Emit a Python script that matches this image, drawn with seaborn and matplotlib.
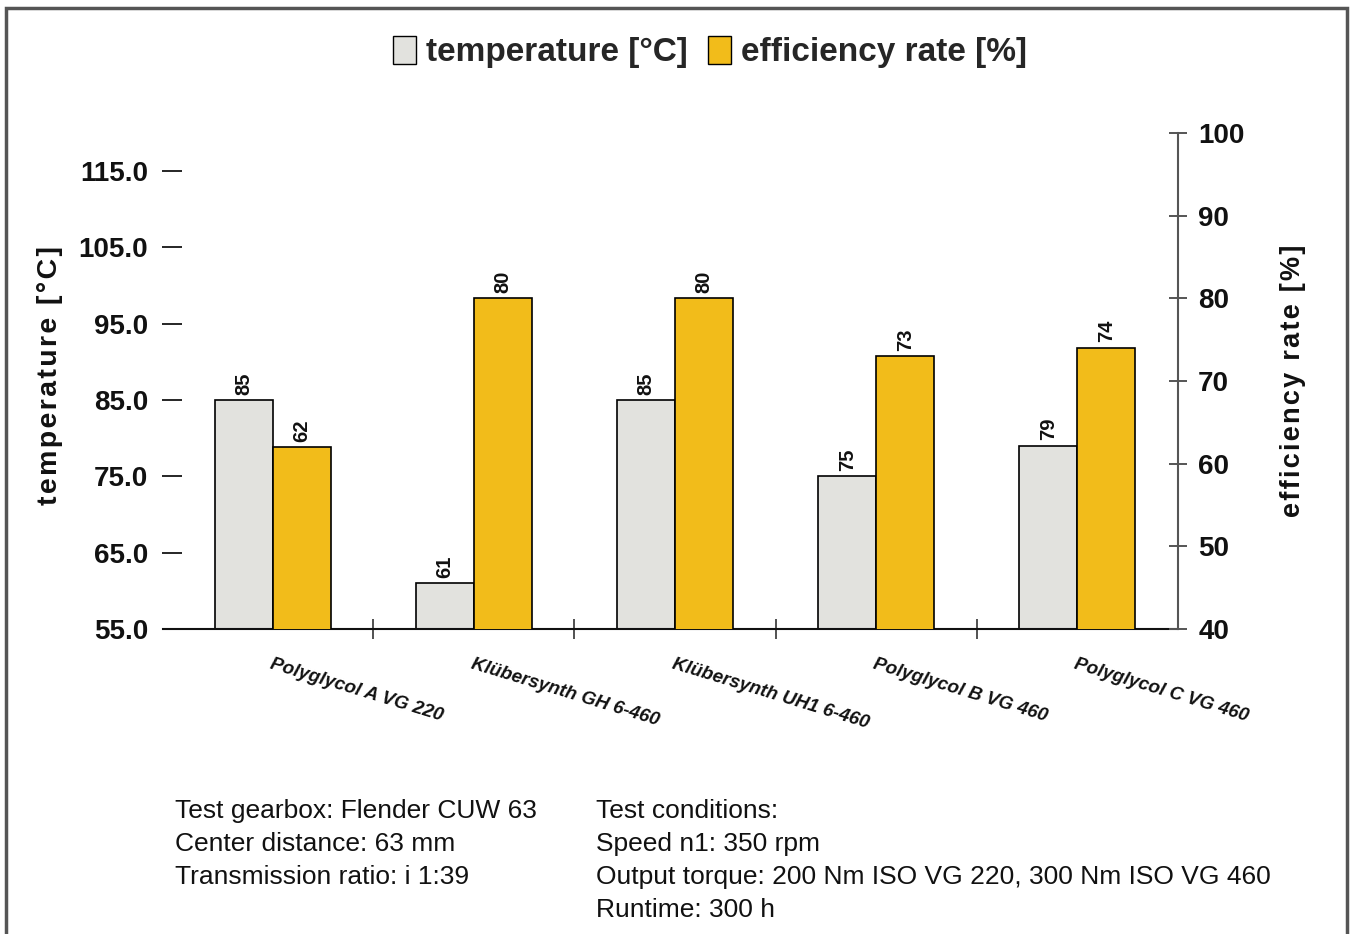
import pandas as pd
import matplotlib
matplotlib.use("Agg")
import matplotlib.pyplot as plt
from matplotlib.patches import Patch, Rectangle
import seaborn as sns

# chart values
lubricants = ['Polyglycol A VG 220', 'Klübersynth GH 6-460', 'Klübersynth UH1 6-460',
              'Polyglycol B VG 460', 'Polyglycol C VG 460']
temperature = [85, 61, 85, 75, 79]
efficiency = [62, 80, 80, 73, 74]
temp_ticks = [55, 65, 75, 85, 95, 105, 115]
eff_ticks = [40, 50, 60, 70, 80, 90, 100]
notes_left = ['Test gearbox: Flender CUW 63', 'Center distance: 63 mm', 'Transmission ratio: i 1:39']
notes_right = ['Test conditions:', 'Speed n1: 350 rpm',
               'Output torque: 200 Nm ISO VG 220, 300 Nm ISO VG 460', 'Runtime: 300 h']

GREY = '#e2e2de'
YELLOW = '#f2bc1a'
FONT = ['Liberation Sans', 'DejaVu Sans']


def spaced(text):
    # a bit of extra tracking like the original axis titles
    return '\u200a'.join(text)


sns.set_theme(style='white')
plt.rcParams['font.family'] = FONT

# long table, each measure is NaN on the other axis so the dodge slots stay
temp_df = pd.DataFrame({'lubricant': lubricants, 'value': temperature, 'measure': 'temperature'})
eff_df = pd.DataFrame({'lubricant': lubricants, 'value': efficiency, 'measure': 'efficiency'})
hue_order = ['temperature', 'efficiency']
palette = {'temperature': GREY, 'efficiency': YELLOW}

left_df = pd.concat([temp_df, eff_df.assign(value=float('nan'))], ignore_index=True)
right_df = pd.concat([temp_df.assign(value=float('nan')), eff_df], ignore_index=True)

fig = plt.figure(figsize=(13.53, 9.34), dpi=100)
ax = fig.add_axes([172 / 1353, 1 - 629 / 934, (1178 - 172) / 1353, (629 - 133) / 934])
ax2 = ax.twinx()

for a, d in ((ax, left_df), (ax2, right_df)):
    sns.barplot(data=d, x='lubricant', y='value', hue='measure', hue_order=hue_order,
                palette=palette, width=0.577, errorbar=None, edgecolor='black', linewidth=1.2,
                saturation=1, legend=False, ax=a)

ax.set_ylim(55, 120)
ax2.set_ylim(40, 100)
ax.set_xlim(-0.5, 4.5)

for a in (ax, ax2):
    for c in a.containers:
        vals = [b.get_height() for b in c]
        if all(pd.isna(v) for v in vals):
            continue
        a.bar_label(c, fmt='%d', rotation=90, padding=4, fontsize=14.5, fontweight='bold',
                    color='#111111')

# spines
for s in ['top', 'left']:
    ax.spines[s].set_visible(False)
    ax2.spines[s].set_visible(False)
ax.spines['right'].set_visible(False)
ax2.spines['bottom'].set_visible(False)
ax.spines['bottom'].set_color('#111111')
ax.spines['bottom'].set_linewidth(1.5)
ax.spines['bottom'].set_bounds(-0.545, 4.5)
ax2.spines['right'].set_color('#555555')
ax2.spines['right'].set_linewidth(1.5)

# left axis
ax.set_yticks(temp_ticks)
ax.set_yticklabels([f'{t:.1f}' for t in temp_ticks], fontsize=20, fontweight='bold')
ax.tick_params(axis='y', direction='inout', length=14, width=1.4, pad=10.3, left=True,
               labelcolor='#111111')
for i, tk in enumerate(ax.yaxis.get_major_ticks()):
    tk.tick1line.set_color('#bbbbbb' if temp_ticks[i] in (95, 115) else '#333333')
ax.set_ylabel(spaced('temperature [°C]'), fontsize=20.5, fontweight='bold', color='#111111')
ax.yaxis.set_label_coords(-0.1083, 0.512)

# right axis
ax2.set_yticks(eff_ticks)
ax2.set_yticklabels([str(t) for t in eff_ticks], fontsize=20, fontweight='bold')
ax2.tick_params(axis='y', direction='inout', length=13, width=1.4, pad=8,
                color='#555555', labelcolor='#111111')
ax2.set_ylabel(spaced('efficiency rate [%]'), fontsize=19.5, fontweight='bold', color='#111111')
ax2.yaxis.set_label_coords(1.1014, 0.5)

# x axis: separators between groups, slanted labels starting at centers
ax.set_xticks(range(len(lubricants)))
ax.set_xticklabels(lubricants, rotation=-17, ha='left', va='top', rotation_mode='anchor',
                   fontsize=13.5, fontweight='bold', style='italic', color='#111111')
ax.tick_params(axis='x', which='major', length=0, pad=19)
ax.set_xticks([0.5, 1.5, 2.5, 3.5], minor=True)
ax.tick_params(axis='x', which='minor', direction='inout', length=14, width=1.2,
               color='#333333', bottom=True)
ax.set_xlabel('')
ax2.set_xlabel('')

# legend at top
handles = [Patch(facecolor=GREY, edgecolor='black', label='temperature [°C]'),
           Patch(facecolor=YELLOW, edgecolor='black', label='efficiency rate [%]')]
fig.legend(handles=handles, loc='center', bbox_to_anchor=(710 / 1353, 1 - 52 / 934), ncol=2,
           frameon=False, prop={'weight': 'bold', 'size': 24},
           handlelength=0.7, handleheight=0.9, handletextpad=0.3, columnspacing=0.6)

# notes under the chart
for i, line in enumerate(notes_left):
    fig.text(175 / 1353, 1 - (811 + 33 * i) / 934, line, fontsize=19, va='center', ha='left',
             color='#111111')
for i, line in enumerate(notes_right):
    fig.text(596 / 1353, 1 - (811 + 33 * i) / 934, line, fontsize=19, va='center', ha='left',
             color='#111111')

# frame around the whole picture
fig.patches.append(Rectangle((6 / 1353, -0.05), 1341 / 1353, 1.05 - 8 / 934,
                             transform=fig.transFigure, fill=False, edgecolor='#555555',
                             linewidth=2.5))

fig.savefig('out.png', dpi=100)
